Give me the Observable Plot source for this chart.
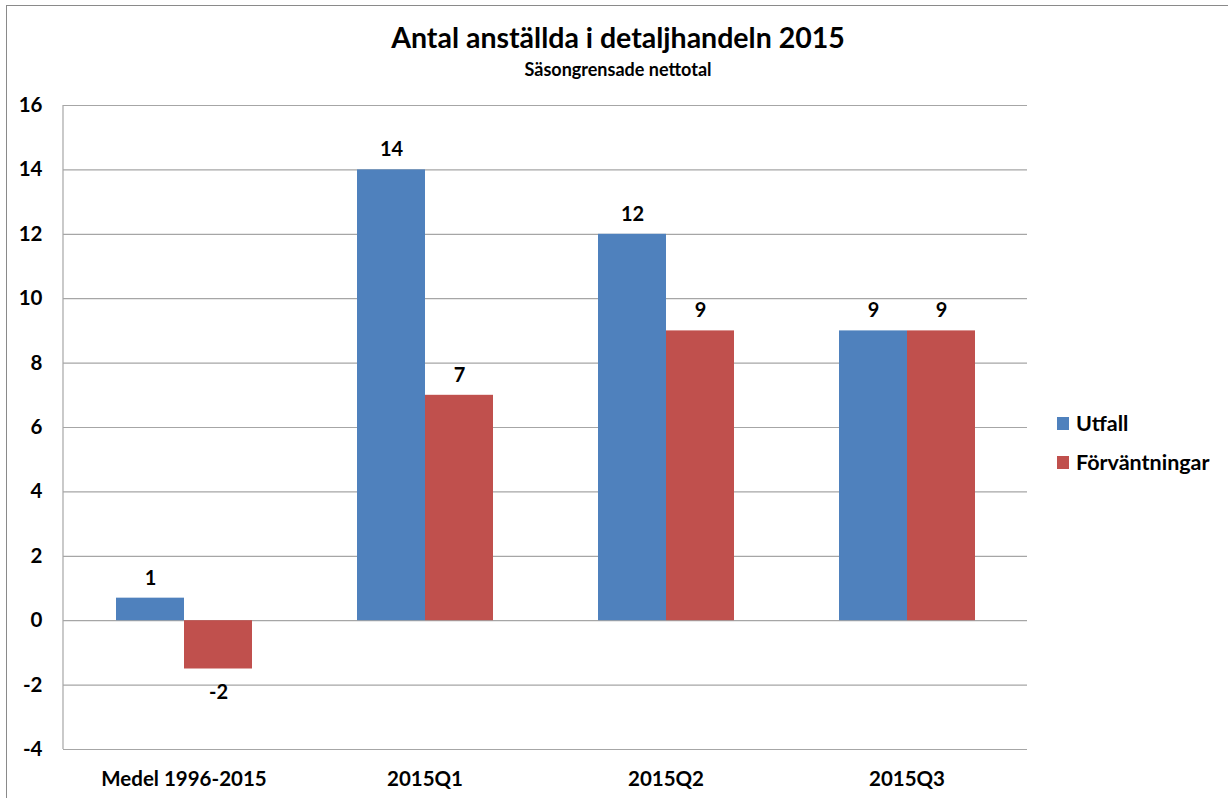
<!DOCTYPE html>
<html><head><meta charset="utf-8">
<script src="https://cdn.jsdelivr.net/npm/d3@7"></script>
<script src="https://cdn.jsdelivr.net/npm/@observablehq/plot@0.6"></script>
<style>
html,body{margin:0;padding:0;background:#fff;}
#wrap{position:relative;width:1228px;height:798px;overflow:hidden;font-family:Lato,"Open Sans",sans-serif;color:#000;}
#frame{position:absolute;left:6px;top:5px;width:1400px;height:1000px;border:1.5px solid #8a8a8a;box-sizing:border-box;}
#title{position:absolute;left:0;width:1236px;top:20px;text-align:center;font-weight:700;font-size:28.5px;line-height:34px;}
#subtitle{position:absolute;left:0;width:1236px;top:58px;text-align:center;font-weight:700;font-size:18px;line-height:22px;}
#chart{position:absolute;left:0;top:0;}
#legend{position:absolute;left:1057px;top:410px;font-weight:700;font-size:21.5px;}
.li{display:flex;align-items:center;height:26px;margin-bottom:13px;}
.sw{width:12px;height:13px;margin-right:7px;}
</style></head>
<body><div id="wrap"><div id="frame"></div><div id="chart"></div>
<div id="title"></div><div id="subtitle"></div><div id="legend"></div></div>
<script>
const title = "Antal anställda i detaljhandeln 2015";
const subtitle = "Säsongrensade nettotal";
const categories = ["Medel 1996-2015", "2015Q1", "2015Q2", "2015Q3"];
const series = ["Utfall", "Förväntningar"];
const utfall = [0.7, 14, 12, 9];
const forvantningar = [-1.5, 7, 9, 9];
const yTicks = [-4, -2, 0, 2, 4, 6, 8, 10, 12, 14, 16];
const colors = ["#4F81BD", "#C0504D"];

document.getElementById("title").textContent = title;
document.getElementById("subtitle").textContent = subtitle;

const data = [];
categories.forEach((c, i) => {
  data.push({cat: c, series: series[0], value: utfall[i]});
  data.push({cat: c, series: series[1], value: forvantningar[i]});
});
const excelRound = v => Math.sign(v) * Math.round(Math.abs(v));

const font = 'Lato, "Open Sans", sans-serif';
const plot = Plot.plot({
  width: 1228, height: 798,
  marginTop: 105, marginBottom: 49, marginLeft: 63, marginRight: 201,
  style: {fontFamily: font, fontSize: "20.5px", fontWeight: "700", color: "#000", background: "transparent"},
  fx: {domain: categories, paddingInner: 0, paddingOuter: 0, label: null, axis: "bottom", tickSize: 0, tickPadding: 22},
  x: {domain: series, axis: null, paddingInner: 0, paddingOuter: 0.755},
  y: {domain: [-4, 16], ticks: yTicks, tickSize: 0, tickPadding: 21, label: null, tickFormat: d => String(d)},
  color: {domain: series, range: colors},
  marks: [
    Plot.ruleY(yTicks, {stroke: "#a6a6a6", strokeWidth: 1.2}),
    Plot.barY(data, {fx: "cat", x: "series", y: "value", fill: "series"}),
    Plot.text(data.filter(d => d.value >= 0), {fx: "cat", x: "series", y: "value", text: d => String(excelRound(d.value)), dy: -20, fill: "#000", fontSize: 20}),
    Plot.text(data.filter(d => d.value < 0), {fx: "cat", x: "series", y: "value", text: d => String(excelRound(d.value)), dy: 24, fill: "#000", fontSize: 20})
  ]
});
// left axis line drawn from the plot's own y scale
const ys = plot.scale("y");
d3.select(plot).append("line")
  .attr("x1", 63).attr("x2", 63)
  .attr("y1", ys.apply(16)).attr("y2", ys.apply(-4))
  .attr("stroke", "#a6a6a6").attr("stroke-width", 1.2);
document.getElementById("chart").appendChild(plot);

const leg = d3.select("#legend");
series.forEach((s, i) => {
  const r = leg.append("div").attr("class", "li");
  r.append("div").attr("class", "sw").style("background", colors[i]);
  r.append("span").text(s);
});
</script></body></html>
